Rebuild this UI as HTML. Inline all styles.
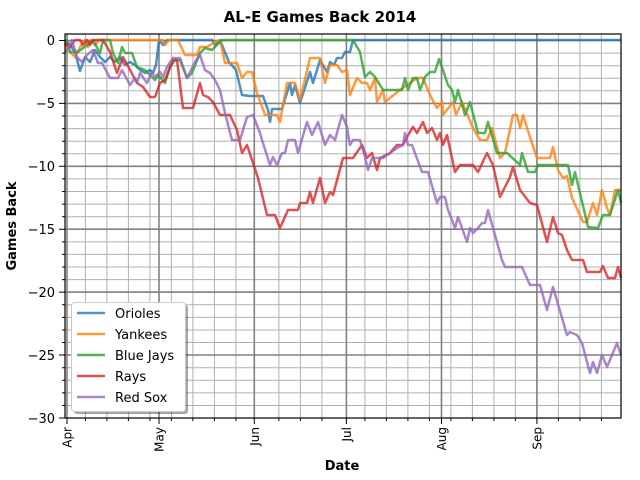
<!DOCTYPE html>
<html><head><meta charset="utf-8"><style>html,body{margin:0;padding:0;background:#fff}svg{display:block}</style></head><body>
<svg width="640" height="480" viewBox="0 0 640 480" xmlns="http://www.w3.org/2000/svg" font-family="DejaVu Sans, Liberation Sans, sans-serif">
<rect width="640" height="480" fill="#fff"/>
<g stroke="#b0b0b0" stroke-width="1">
<path d="M65 53.1H621M65 65.7H621M65 78.2H621M65 90.8H621M65 116H621M65 128.6H621M65 141.2H621M65 153.7H621M65 178.9H621M65 191.5H621M65 204.1H621M65 216.7H621M65 241.9H621M65 254.4H621M65 267H621M65 279.6H621M65 304.8H621M65 317.4H621M65 330H621M65 342.5H621M65 367.7H621M65 380.3H621M65 392.9H621M65 405.5H621"/>
<path d="M85.4 34V418M106.9 34V418M128.4 34V418M149.9 34V418M171.4 34V418M192.9 34V418M214.4 34V418M235.9 34V418M278.9 34V418M300.4 34V418M321.9 34V418M364.9 34V418M386.4 34V418M407.9 34V418M429.4 34V418M450.9 34V418M472.4 34V418M493.9 34V418M515.4 34V418M558.4 34V418M579.9 34V418M601.4 34V418"/>
</g>
<g stroke="#808080" stroke-width="1.6">
<path d="M65 40.5H621M65 103.4H621M65 166.3H621M65 229.2H621M65 292.1H621M65 355H621"/>
<path d="M67 34V418M159 34V418M254.3 34V418M346.4 34V418M441.5 34V418M536.9 34V418"/>
</g>
<g fill="none" stroke-width="2.5" stroke-linejoin="round" stroke-opacity="0.8">
<polyline stroke="#1f77b4" points="65,40 70,45 75,52 80,71 85,57 90,62 95,50 100,57 105,62 110,57 115,62 120,57 125,65 130,62 135,65 140,70 145,73 150,70 153,73 156,65 159,40 163,45 167,40 212,40 215,45 220,40 224,50 229,62 236,70 242,95 250,96 263,96 268,110 270,122 272,109 282,109 290,83 292,95 295,85 300,103 310,72 313,83 320,60 327,72 330,62 334,65 337,58 342,58 345,52 350,52 353,40 621,40"/>
<polyline stroke="#ff7f0e" points="65,45 70,52 75,57 80,47 85,40 88,47 90,40 95,45 100,40 163,40 165,45 169,40 178,40 185,55 197,55 200,47 207,47 215,42 220,40 225,63 237,63 242,78 247,72 252,72 257,93 265,115 277,115 280,122 287,83 295,83 300,100 310,58 320,58 325,83 330,65 337,65 342,72 347,70 350,95 357,78 362,83 367,83 370,90 375,78 377,102 383,90 385,102 400,90 417,78 423,78 430,95 437,108 442,102 443,115 453,102 456,115 462,102 473,128 480,140 487,140 492,128 500,158 505,153 513,115 517,115 520,128 523,115 527,128 537,158 550,158 553,147 558,170 563,178 567,176 572,198 583,222 587,222 593,203 597,215 602,190 607,208 610,215 615,190 621,190"/>
<polyline stroke="#2ca02c" points="65,45 67,40 70,52 78,52 87,45 93,40 100,53 103,40 110,40 113,53 118,63 122,47 125,53 132,53 137,67 145,70 150,75 155,80 158,75 165,83 170,67 175,60 180,60 187,78 192,73 200,53 205,48 212,50 217,45 222,40 353,40 360,52 365,77 370,72 375,77 383,90 402,90 405,78 408,90 413,78 417,78 420,90 425,77 430,72 435,72 439,59 443,70 448,85 452,90 455,102 458,90 465,115 470,102 478,133 485,133 488,122 497,153 507,153 520,165 522,153 528,172 535,172 538,165 568,165 572,185 575,172 588,227 598,228 603,215 610,215 618,190 621,203"/>
<polyline stroke="#d62728" points="65,44 70,47 75,40 80,40 83,45 87,40 90,45 93,40 103,40 110,52 117,73 123,57 130,70 137,83 143,87 150,97 155,97 160,83 165,80 173,60 177,60 183,108 193,108 200,83 203,95 208,97 213,102 220,115 230,115 237,130 242,153 247,145 252,160 258,178 267,215 275,215 280,228 288,210 298,210 300,203 307,203 310,192 313,203 320,178 325,203 330,192 333,195 343,158 353,158 362,145 367,158 372,153 377,170 380,158 390,153 397,145 403,145 407,137 413,127 417,133 423,122 427,133 432,128 437,140 440,133 443,145 447,135 455,172 460,165 473,165 478,172 487,153 493,165 500,197 510,177 513,167 520,190 530,203 537,205 547,242 553,217 558,233 562,235 567,250 572,260 583,260 587,272 600,272 603,266 608,278 615,278 618,267 621,278"/>
<polyline stroke="#9467bd" points="65,52 68,48 72,40 77,57 82,62 87,55 93,50 98,63 102,63 110,78 118,78 122,70 130,85 135,78 137,83 140,73 147,83 152,72 155,77 160,72 163,77 167,67 173,58 180,58 187,78 195,62 200,55 205,70 210,73 215,80 220,90 225,113 232,140 240,140 247,117 253,115 260,133 263,143 270,165 273,157 277,165 282,153 285,153 288,140 295,140 298,153 307,122 312,135 318,122 325,145 330,135 335,140 342,115 347,127 350,145 353,140 360,140 365,157 368,170 372,158 383,158 390,153 397,148 403,145 405,133 408,145 412,145 422,172 428,172 437,203 440,197 445,197 448,210 455,228 458,217 462,228 467,242 470,228 473,233 478,228 482,223 485,223 488,210 502,260 505,267 522,267 530,285 540,285 547,310 553,287 567,335 570,332 577,335 582,343 587,362 590,373 593,362 597,373 602,355 607,367 612,355 617,343 621,355"/>
</g>
<rect x="65" y="34" width="556" height="384" fill="none" stroke="#000" stroke-width="1.2"/>
<g stroke="#000" stroke-width="1">
<path d="M59 40.5H65M59 103.4H65M59 166.3H65M59 229.2H65M59 292.1H65M59 355H65M59 418H65"/>
<path d="M62 53.1H65M62 65.7H65M62 78.2H65M62 90.8H65M62 116H65M62 128.6H65M62 141.2H65M62 153.7H65M62 178.9H65M62 191.5H65M62 204.1H65M62 216.7H65M62 241.9H65M62 254.4H65M62 267H65M62 279.6H65M62 304.8H65M62 317.4H65M62 330H65M62 342.5H65M62 367.7H65M62 380.3H65M62 392.9H65M62 405.5H65"/>
<path d="M67 418V424M159 418V424M254.3 418V424M346.4 418V424M441.5 418V424M536.9 418V424"/>
<path d="M85.4 418V421M106.9 418V421M128.4 418V421M149.9 418V421M171.4 418V421M192.9 418V421M214.4 418V421M235.9 418V421M278.9 418V421M300.4 418V421M321.9 418V421M364.9 418V421M386.4 418V421M407.9 418V421M429.4 418V421M450.9 418V421M472.4 418V421M493.9 418V421M515.4 418V421M558.4 418V421M579.9 418V421M601.4 418V421"/>
</g>
<g font-size="13" text-anchor="end" fill="#000">
<text x="55" y="45">0</text><text x="55" y="108">−5</text><text x="55" y="171">−10</text><text x="55" y="234">−15</text><text x="55" y="297">−20</text><text x="55" y="360">−25</text><text x="55" y="423">−30</text>
</g>
<g font-size="12" text-anchor="end" fill="#000">
<text transform="translate(71.5,427) rotate(-90)">Apr</text>
<text transform="translate(163.5,427) rotate(-90)">May</text>
<text transform="translate(258.8,427) rotate(-90)">Jun</text>
<text transform="translate(350.9,427) rotate(-90)">Jul</text>
<text transform="translate(446,427) rotate(-90)">Aug</text>
<text transform="translate(541.4,427) rotate(-90)">Sep</text>
</g>
<text x="342" y="470" font-size="13" font-weight="bold" text-anchor="middle">Date</text>
<text transform="translate(16,226) rotate(-90)" font-size="13" font-weight="bold" text-anchor="middle">Games Back</text>
<text x="320" y="22" font-size="15" font-weight="bold" text-anchor="middle">AL-E Games Back 2014</text>
<rect x="74" y="305" width="114" height="109" rx="3" fill="#000" fill-opacity="0.35"/>
<rect x="71.5" y="302.5" width="114" height="109" rx="3" fill="#fff" stroke="#ccc"/>
<g stroke-width="2.5" stroke-opacity="0.8">
<path d="M77 313H105" stroke="#1f77b4"/><path d="M77 334H105" stroke="#ff7f0e"/><path d="M77 355H105" stroke="#2ca02c"/><path d="M77 376H105" stroke="#d62728"/><path d="M77 397H105" stroke="#9467bd"/>
</g>
<g font-size="13" fill="#000">
<text x="115" y="318">Orioles</text><text x="115" y="339">Yankees</text><text x="115" y="360">Blue Jays</text><text x="115" y="381">Rays</text><text x="115" y="402">Red Sox</text>
</g>
</svg>
</body></html>
